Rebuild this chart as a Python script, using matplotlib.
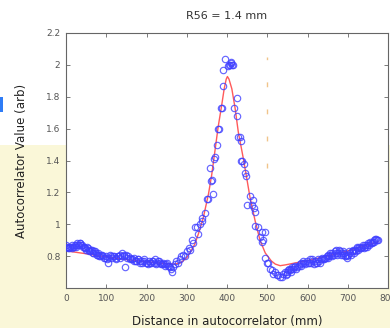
import matplotlib
matplotlib.use("Agg")
import matplotlib.pyplot as plt
from matplotlib.patches import Rectangle

# ---------------- data ----------------
title_text = "R56 = 1.4 mm"
xlabel_text = "Distance in autocorrelator (mm)"
ylabel_text = "Autocorrelator Value (arb)"

x_ticks = [0, 100, 200, 300, 400, 500, 600, 700, 800]
x_ticklabels = ["0", "100", "200", "300", "400", "500", "600", "700", "800"]
y_ticks = [0.8, 1.0, 1.2, 1.4, 1.6, 1.8, 2.0, 2.2]
y_ticklabels = ["0.8", "1", "1.2", "1.4", "1.6", "1.8", "2", "2.2"]

# measured points (blue circles)
meas_x = [0, 4, 8, 12, 16, 20, 24, 28, 32, 36, 40, 44, 48, 52, 56, 60, 64, 68, 72, 76,
          80, 85, 90, 95, 100, 105, 110, 115, 120, 125, 130, 135, 140, 145, 147, 150, 155,
          160, 165, 170, 175, 180, 185, 190, 195, 200, 205, 210, 215, 220, 225, 230, 235,
          240, 245, 250, 255, 260, 263, 266, 270, 274, 278,
          2, 6, 10, 14, 18, 22, 26, 30, 34, 38, 42, 46, 50, 54, 58, 62, 66, 70, 74, 78, 83,
          88, 93, 98, 103, 108, 113, 118, 123, 128, 133, 138, 143, 152, 158, 163, 168, 173,
          178, 183, 188, 193, 198, 203, 208, 213, 218, 223, 228, 233, 238, 243, 248, 253, 258,
          282, 286, 291, 296, 300, 305, 308, 312, 316, 320, 325, 329, 333, 337, 339, 345,
          350, 352, 358, 360, 362, 366, 368, 370, 374, 378, 380, 385, 387, 391, 391, 395,
          402, 405, 407, 409, 411, 413, 416,
          418, 424, 424, 428, 432, 435, 436, 438, 443, 445, 446, 449, 457, 461, 465, 468,
          470, 470, 478, 482, 486, 486, 490, 494, 494, 499, 503, 507, 511, 515, 519, 523,
          527, 531, 536, 540,
          544, 548, 552, 556, 560, 565, 570, 575, 581, 585, 590, 595, 600, 606, 610, 615,
          620, 623, 628, 633, 639, 644, 648, 652, 656, 660, 665, 668, 672, 676, 681, 685,
          689, 693, 697, 701, 706, 710, 714, 718, 722, 726, 730, 735, 740, 744, 747, 751,
          756, 760, 764, 768, 772, 775,
          546, 550, 554, 558, 562, 567, 572, 578, 583, 588, 592, 598, 603, 608, 612, 618,
          625, 630, 636, 642, 646, 650, 654, 658, 662, 670, 674, 679, 683, 687, 691, 695,
          699, 703, 708, 712, 716, 720, 724, 728, 733, 737, 742, 749, 753, 758, 762, 766, 770]
meas_y = [0.87, 0.86, 0.85, 0.86, 0.85, 0.86, 0.87, 0.88, 0.87, 0.88, 0.87, 0.86, 0.85, 0.86,
          0.84, 0.83, 0.84, 0.82, 0.83, 0.81, 0.82, 0.80, 0.81, 0.79, 0.80, 0.76, 0.81, 0.79,
          0.80, 0.79, 0.80, 0.81, 0.82, 0.80, 0.73, 0.81, 0.80, 0.79, 0.78, 0.79, 0.77, 0.78,
          0.77, 0.76, 0.78, 0.76, 0.77, 0.76, 0.77, 0.78, 0.76, 0.77, 0.75, 0.76, 0.74, 0.76,
          0.74, 0.72, 0.70, 0.73, 0.75, 0.77, 0.76,
          0.86, 0.85, 0.86, 0.87, 0.86, 0.87, 0.86, 0.87, 0.88, 0.87, 0.86, 0.85, 0.84, 0.85,
          0.83, 0.84, 0.82, 0.83, 0.82, 0.81, 0.80, 0.81, 0.80, 0.79, 0.78, 0.79, 0.80, 0.80,
          0.78, 0.80, 0.79, 0.80, 0.81, 0.79, 0.78, 0.78, 0.77, 0.77, 0.78, 0.76, 0.77, 0.77,
          0.76, 0.75, 0.76, 0.77, 0.76, 0.75, 0.77, 0.76, 0.75, 0.75, 0.75, 0.74, 0.73,
          0.78, 0.80, 0.81, 0.80, 0.83, 0.85, 0.84, 0.90, 0.88, 0.98, 0.98, 0.94, 1.00, 1.04,
          1.02, 1.07, 1.16, 1.16, 1.35, 1.27, 1.28, 1.19, 1.41, 1.42, 1.50, 1.60, 1.60, 1.73,
          1.73, 1.87, 1.97, 2.04, 1.99, 2.00, 2.00, 2.01, 2.02, 2.00, 2.00,
          1.73, 1.79, 1.68, 1.55, 1.55, 1.52, 1.40, 1.40, 1.38, 1.32, 1.30, 1.12, 1.18, 1.12,
          1.15, 1.10, 1.08, 0.99, 0.98, 0.92, 0.95, 0.89, 0.90, 0.95, 0.79, 0.76, 0.76, 0.72,
          0.71, 0.69, 0.70, 0.68, 0.68, 0.67, 0.67, 0.69,
          0.70, 0.69, 0.71, 0.71, 0.72, 0.72, 0.74, 0.73, 0.75, 0.76, 0.77, 0.75, 0.76, 0.78,
          0.77, 0.75, 0.76, 0.76, 0.77, 0.78, 0.78, 0.79, 0.80, 0.81, 0.82, 0.80, 0.81, 0.83,
          0.84, 0.82, 0.83, 0.82, 0.81, 0.80, 0.79, 0.81, 0.82, 0.83, 0.83, 0.84, 0.85, 0.84,
          0.85, 0.86, 0.85, 0.87, 0.87, 0.88, 0.89, 0.88, 0.90, 0.91, 0.90, 0.90,
          0.68, 0.70, 0.72, 0.70, 0.73, 0.73, 0.72, 0.74, 0.74, 0.76, 0.76, 0.77, 0.76, 0.76,
          0.78, 0.77, 0.78, 0.76, 0.79, 0.78, 0.79, 0.79, 0.80, 0.81, 0.82, 0.82, 0.81, 0.84,
          0.81, 0.83, 0.82, 0.81, 0.80, 0.83, 0.81, 0.84, 0.82, 0.83, 0.86, 0.86, 0.85, 0.87,
          0.86, 0.86, 0.87, 0.88, 0.89, 0.89, 0.91]

# fitted curve (red line)
fit_x = [0, 50, 100, 150, 200, 250, 270, 285, 300, 310, 320, 329, 341, 354, 362, 370, 378,
         387, 393, 398, 401, 405, 412, 420, 428, 440, 449, 457, 470, 482, 495, 510, 520,
         532, 545, 565, 606, 648, 689, 730, 775]
fit_y = [0.833, 0.815, 0.795, 0.778, 0.765, 0.752, 0.750, 0.758, 0.79, 0.83, 0.875, 0.94,
         1.04, 1.19, 1.31, 1.46, 1.61, 1.75, 1.85, 1.91, 1.927, 1.91, 1.85, 1.73, 1.58, 1.42,
         1.29, 1.17, 1.02, 0.90, 0.82, 0.77, 0.75, 0.740, 0.745, 0.755, 0.775, 0.80, 0.825,
         0.855, 0.89]

# dashed marker line
marker_x = [500, 500]
marker_y = [1.35, 2.05]

# ---------------- figure ----------------
fig = plt.figure(figsize=(3.9, 3.28), dpi=100, facecolor="white")

# slide background (beige lower part, blue mark at edge)
fig.patches.append(Rectangle((0, 0), 1, 0.558, transform=fig.transFigure,
                             facecolor="#faf7d8", edgecolor="none", zorder=-10))
fig.patches.append(Rectangle((0, 1 - 112 / 328), 3 / 390, 15 / 328, transform=fig.transFigure,
                             facecolor="#2f7cf6", edgecolor="none", zorder=-5))

ax = fig.add_axes([66 / 390, 40 / 328, 322 / 390, 255 / 328])
ax.set_facecolor("white")

ax.plot(marker_x, marker_y, color="#f0c48a", lw=1.0, linestyle=(0, (3.5, 16)), zorder=1)
ax.plot(fit_x, fit_y, color="#ff5a5a", lw=1.0, zorder=2)
ax.plot(meas_x, meas_y, linestyle="none", marker="o", ms=4.6, mfc="none",
        mec="#4040ff", mew=0.85, alpha=0.8, zorder=3)

ax.set_xlim(0, 800)
ax.set_ylim(0.6, 2.2)
ax.set_xticks(x_ticks)
ax.set_xticklabels(x_ticklabels)
ax.set_yticks(y_ticks)
ax.set_yticklabels(y_ticklabels)
ax.tick_params(direction="in", top=True, right=True, length=3, width=0.6,
               labelsize=6.5, labelcolor="#555555", color="#666666", pad=4)
for s in ax.spines.values():
    s.set_color("#666666")
    s.set_linewidth(0.8)

ax.set_title(title_text, fontsize=8, color="#333333", pad=10)
ax.set_xlabel(xlabel_text, fontsize=8.5, color="#222222", labelpad=9)
ax.set_ylabel(ylabel_text, fontsize=8.5, color="#222222", labelpad=13)

fig.savefig("out.png", dpi=100, facecolor=fig.get_facecolor())
